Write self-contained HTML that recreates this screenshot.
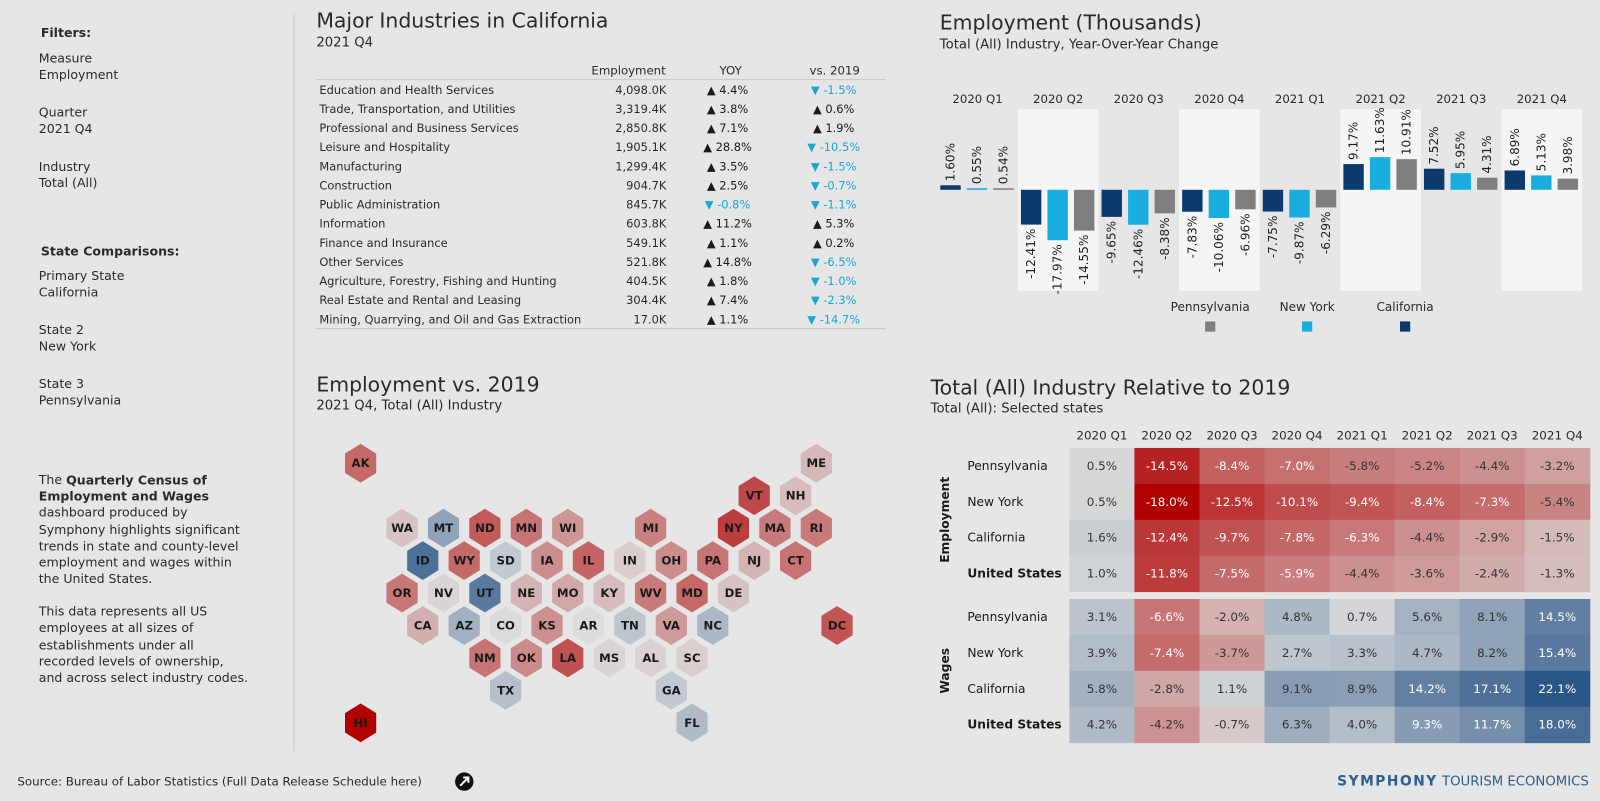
<!DOCTYPE html>
<html><head><meta charset="utf-8"><title>QCEW Dashboard</title>
<style>
html,body{margin:0;padding:0;background:#e6e6e6;width:1600px;height:801px;overflow:hidden}
svg{display:block}
text{font-family:"DejaVu Sans","Liberation Sans",sans-serif;dominant-baseline:central}
.t{font-size:20px}
.s{font-size:12.3px}
.b{font-weight:bold}
</style></head>
<body>
<svg id="dash" width="1600" height="801" viewBox="0 0 1568 785" preserveAspectRatio="none" xmlns="http://www.w3.org/2000/svg" fill="#2a2a2a">
<rect x="0" y="0" width="1568" height="785" fill="#e6e6e6"/>
<g>
<text x="40" y="32" class="s b">Filters:</text>
<text x="38" y="57" class="s">Measure</text>
<text x="38" y="73" class="s">Employment</text>
<text x="38" y="110" class="s">Quarter</text>
<text x="38" y="126" class="s">2021 Q4</text>
<text x="38" y="163" class="s">Industry</text>
<text x="38" y="179" class="s">Total (All)</text>
<text x="40" y="246" class="s b">State Comparisons:</text>
<text x="38" y="270" class="s">Primary State</text>
<text x="38" y="286" class="s">California</text>
<text x="38" y="323" class="s">State 2</text>
<text x="38" y="339" class="s">New York</text>
<text x="38" y="376" class="s">State 3</text>
<text x="38" y="392" class="s">Pennsylvania</text>
</g>
<g>
<text x="38" y="470" class="s">The <tspan font-weight="bold">Quarterly Census of</tspan></text>
<text x="38" y="486" class="s b">Employment and Wages</text>
<text x="38" y="502" class="s">dashboard produced by</text>
<text x="38" y="519" class="s">Symphony highlights significant</text>
<text x="38" y="535" class="s">trends in state and county-level</text>
<text x="38" y="551" class="s">employment and wages within</text>
<text x="38" y="567" class="s">the United States.</text>
<text x="38" y="599" class="s">This data represents all US</text>
<text x="38" y="615" class="s">employees at all sizes of</text>
<text x="38" y="632" class="s">establishments under all</text>
<text x="38" y="648" class="s">recorded levels of ownership,</text>
<text x="38" y="664" class="s">and across select industry codes.</text>
</g>
<line x1="288" y1="14" x2="288" y2="736" stroke="#c8c8c8" stroke-width="1"/>

<text x="310" y="20" class="t">Major Industries in California</text>
<text x="310" y="42" font-size="13">2021 Q4</text>
<g id="table"></g>

<text x="310" y="377" class="t">Employment vs. 2019</text>
<text x="310" y="398" font-size="13">2021 Q4, Total (All) Industry</text>
<g id="hexmap"></g>

<text x="921" y="22" class="t">Employment (Thousands)</text>
<text x="921" y="44" font-size="13">Total (All) Industry, Year-Over-Year Change</text>
<g id="bars"></g>

<text x="912" y="380" class="t">Total (All) Industry Relative to 2019</text>
<text x="912" y="401" font-size="13">Total (All): Selected states</text>
<g id="heat"></g>

<g>
<text x="17" y="766" font-size="11.6">Source: Bureau of Labor Statistics (Full Data Release Schedule here)</text>
<g>
<circle cx="455" cy="766" r="9" fill="#111"/>
<path d="M451 770 L459 762 M454 762 L459 762 L459 767" stroke="#fff" stroke-width="2" fill="none"/>
</g>
<text x="1557" y="766" text-anchor="end" font-size="13.5"><tspan font-weight="bold" fill="#2b5f8e" letter-spacing="1.5">SYMPHONY</tspan><tspan fill="#2b5f8e" font-size="13"> TOURISM ECONOMICS</tspan></text>
</g>
</svg>
<script>
var NS='http://www.w3.org/2000/svg';
function mk(tag,attrs,parent){var e=document.createElementNS(NS,tag);for(var k in attrs)e.setAttribute(k,attrs[k]);parent.appendChild(e);return e;}

/* ---------- Industries table data ---------- */
var industries=['Education and Health Services','Trade, Transportation, and Utilities','Professional and Business Services','Leisure and Hospitality','Manufacturing','Construction','Public Administration','Information','Finance and Insurance','Other Services','Agriculture, Forestry, Fishing and Hunting','Real Estate and Rental and Leasing','Mining, Quarrying, and Oil and Gas Extraction'];
var employment=['4,098.0K','3,319.4K','2,850.8K','1,905.1K','1,299.4K','904.7K','845.7K','603.8K','549.1K','521.8K','404.5K','304.4K','17.0K'];
var yoy=[4.4,3.8,7.1,28.8,3.5,2.5,-0.8,11.2,1.1,14.8,1.8,7.4,1.1];
var vs2019=[-1.5,0.6,1.9,-10.5,-1.5,-0.7,-1.1,5.3,0.2,-6.5,-1.0,-2.3,-14.7];

/* ---------- Bar chart data ---------- */
var quarters=['2020 Q1','2020 Q2','2020 Q3','2020 Q4','2021 Q1','2021 Q2','2021 Q3','2021 Q4'];
var caVals=[1.60,-12.41,-9.65,-7.83,-7.75,9.17,7.52,6.89];
var nyVals=[0.55,-17.97,-12.46,-10.06,-9.87,11.63,5.95,5.13];
var paVals=[0.54,-14.55,-8.38,-6.96,-6.29,10.91,4.31,3.98];
var seriesNames=['California','New York','Pennsylvania'];

/* ---------- Heatmap data ---------- */
var heatRowLabels=['Pennsylvania','New York','California','United States'];
var empPA=[0.5,-14.5,-8.4,-7.0,-5.8,-5.2,-4.4,-3.2];
var empNY=[0.5,-18.0,-12.5,-10.1,-9.4,-8.4,-7.3,-5.4];
var empCA=[1.6,-12.4,-9.7,-7.8,-6.3,-4.4,-2.9,-1.5];
var empUS=[1.0,-11.8,-7.5,-5.9,-4.4,-3.6,-2.4,-1.3];
var wagPA=[3.1,-6.6,-2.0,4.8,0.7,5.6,8.1,14.5];
var wagNY=[3.9,-7.4,-3.7,2.7,3.3,4.7,8.2,15.4];
var wagCA=[5.8,-2.8,1.1,9.1,8.9,14.2,17.1,22.1];
var wagUS=[4.2,-4.2,-0.7,6.3,4.0,9.3,11.7,18.0];

/* ---------- Hex map data ---------- */
var hexStates=['AK','ME','VT','NH','WA','MT','ND','MN','WI','MI','NY','MA','RI','ID','WY','SD','IA','IL','IN','OH','PA','NJ','CT','OR','NV','UT','NE','MO','KY','WV','MD','DE','CA','AZ','CO','KS','AR','TN','VA','NC','NM','OK','LA','MS','AL','SC','TX','GA','FL','HI','DC'];
var hexValues=[-7.7,-1.6,-10.6,-1.4,-1.0,8.2,-8.9,-6.6,-4.0,-5.6,-11.7,-6.2,-6.2,17.2,-7.7,2.2,-4.6,-8.0,-0.5,-4.6,-6.6,-1.9,-6.7,-6.5,-0.2,15.4,-1.9,-2.7,-1.3,-6.0,-7.7,-1.0,-2.2,5.9,0.1,-4.4,0,2.8,-3.6,4.9,-6.6,-4.8,-9.8,-0.2,-0.3,-0.4,3.6,2.2,4.3,-18,-9.4];
var hexRow=[0,0,1,1,2,2,2,2,2,2,2,2,2,3,3,3,3,3,3,3,3,3,3,4,4,4,4,4,4,4,4,4,5,5,5,5,5,5,5,5,6,6,6,6,6,6,7,7,8,8,5];
var hexCol=[-1,10,8,9,0,1,2,3,4,6,8,9,10,0,1,2,3,4,5,6,7,8,9,0,1,2,3,4,5,6,7,8,0,1,2,3,4,5,6,7,2,3,4,5,6,7,2,6,7,-1,10];

function colorFor(v){
  var r,gg,b;
  if(v<0){var t=Math.min(1,Math.pow(-v/18,0.75));r=220-t*44;gg=220-t*220;b=220-t*220;}
  else{var t2=Math.min(1,Math.pow(v/22,0.85));r=220-t2*177;gg=220-t2*133;b=220-t2*84;}
  return 'rgb('+Math.round(r)+','+Math.round(gg)+','+Math.round(b)+')';
}

/* ---------- Table ---------- */
(function(){
  var g=document.getElementById('table');
  var h1=mk('text',{x:616,y:69,'text-anchor':'middle','font-size':11.5},g);h1.textContent='Employment';
  
  
  var h2=mk('text',{x:716,y:69,'text-anchor':'middle','font-size':11.5},g);h2.textContent='YOY';
  
  
  var h3=mk('text',{x:818,y:69,'text-anchor':'middle','font-size':11.5},g);h3.textContent='vs. 2019';
  
  
  var l1=mk('line',{x1:310,y1:78,x2:868,y2:78,stroke:'#c9c9c9'},g);
  
  
  var l2=mk('line',{x1:310,y1:322,x2:868,y2:322,stroke:'#c9c9c9'},g);
  
  
  function fmt(v){return (v<0?'-':'')+Math.abs(v).toFixed(1)+'%';}
  for(var i=0;i<industries.length;i++){
    var y=88+i*18.75;
    var row=mk('g',{},g);
    
    
    var n=mk('text',{x:313,y:y,'font-size':11.2},row);n.textContent=industries[i];
    
    
    var e=mk('text',{x:653,y:y,'text-anchor':'end','font-size':11.2},row);e.textContent=employment[i];
    
    
    var yv=yoy[i],neg=yv<0;
    var t1=mk('text',{x:713,y:y,'text-anchor':'middle','font-size':11.2,fill:neg?'#1aa7d6':'#1a1a1a'},row);
    t1.textContent=(neg?'▼ ':'▲ ')+fmt(yv);
    
    
    var vv=vs2019[i],n2=vv<0;
    var t2=mk('text',{x:817,y:y,'text-anchor':'middle','font-size':11.2,fill:n2?'#1aa7d6':'#1a1a1a'},row);
    t2.textContent=(n2?'▼ ':'▲ ')+fmt(vv);
    
    
  }
})();

/* ---------- Hex map ---------- */
(function(){
  var g=document.getElementById('hexmap');
  var x0=394,dx=40.6,y0=454,dy=31.8,R=19;
  function cx(r,c){return x0+c*dx+(r%2===1?dx/2:0);}
  for(var i=0;i<hexStates.length;i++){
    var x=cx(hexRow[i],hexCol[i]),y=y0+hexRow[i]*dy;
    var pts=[];
    for(var k=0;k<6;k++){var a=Math.PI/180*(60*k-90);pts.push((x+R*Math.cos(a)*0.93).toFixed(1)+','+(y+R*Math.sin(a)).toFixed(1));}
    var p=mk('polygon',{points:pts.join(' '),fill:colorFor(hexValues[i])},g);
    
    
    var t=mk('text',{x:x,y:y,'text-anchor':'middle','font-size':11.5,'font-weight':'bold',fill:'#1a1a1a'},g);
    t.textContent=hexStates[i];
    
    
  }
})();

/* ---------- Bar chart ---------- */
(function(){
  var g=document.getElementById('bars');
  var gx0=918.5,gw=79,zeroY=186,k=2.75;
  function yOf(v){return zeroY-v*k;}
  var cols=['#0b3a6e','#1aaee0','#7f7f7f'];
  var sets=[caVals,nyVals,paVals];
  var offs=[3,29,55],bw=20;
  for(var q=0;q<quarters.length;q++){
    var gs=gx0+q*gw;
    if(q%2===1){
      var band=mk('rect',{x:gs,y:107,width:gw,height:178,fill:'#f5f5f5'},g);
      
      
    }
    var ql=mk('text',{x:gs+gw/2,y:97,'text-anchor':'middle','font-size':11.5},g);
    ql.textContent=quarters[q];
    
    
  }
  for(var q2=0;q2<quarters.length;q2++){
    var gs2=gx0+q2*gw;
    for(var s=0;s<3;s++){
      var v=sets[s][q2];
      var y1=Math.min(yOf(v),zeroY),h=Math.abs(yOf(v)-zeroY);
      var r=mk('rect',{x:gs2+offs[s],y:y1,width:bw,height:Math.max(h,1),fill:cols[s]},g);
      
      
      var lx=gs2+offs[s]+bw/2;
      var ly=v>=0?yOf(v)-4:yOf(v)+4;
      var t=mk('text',{x:0,y:0,'font-size':11.8,fill:'#222','text-anchor':v>=0?'start':'end',transform:'translate('+lx+','+ly+') rotate(-90)'},g);
      t.textContent=v.toFixed(2)+'%';
      
      
    }
  }
  var legendNames=['Pennsylvania','New York','California'];
  var legendCols=['#7f7f7f','#1aaee0','#0b3a6e'];
  var legendX=[1186,1281,1377];
  for(var j=0;j<3;j++){
    var lt=mk('text',{x:legendX[j],y:301,'text-anchor':'middle','font-size':11.8},g);
    lt.textContent=legendNames[j];
    
    
    var ls=mk('rect',{x:legendX[j]-5,y:315,width:10,height:10,fill:legendCols[j]},g);
    
    
  }
})();

/* ---------- Heatmap ---------- */
(function(){
  var g=document.getElementById('heat');
  var x0=1048,cw=63.75,rh=35.2;
  var blocks=[{name:'Employment',top:439,rows:[empPA,empNY,empCA,empUS]},{name:'Wages',top:587,rows:[wagPA,wagNY,wagCA,wagUS]}];
  for(var c=0;c<quarters.length;c++){
    var h=mk('text',{x:x0+c*cw+cw/2,y:427,'text-anchor':'middle','font-size':11.7},g);
    h.textContent=quarters[c];
    
    
  }
  blocks.forEach(function(b){
    var bt=mk('text',{x:0,y:0,'text-anchor':'middle','font-size':12,'font-weight':'bold',fill:'#1a1a1a',transform:'translate(926,'+(b.top+2*rh)+') rotate(-90)'},g);
    bt.textContent=b.name;
    
    
    for(var r=0;r<4;r++){
      var y=b.top+r*rh;
      var rl=mk('text',{x:948,y:y+rh/2,'font-size':12,'font-weight':r===3?'bold':'normal',fill:'#1a1a1a'},g);
      rl.textContent=heatRowLabels[r];
      
      
      for(var c2=0;c2<quarters.length;c2++){
        var v=b.rows[r][c2];
        var cell=mk('rect',{x:x0+c2*cw,y:y,width:cw+0.5,height:rh+0.5,fill:colorFor(v)},g);
        
        
        var white=(v<=-5.85)||(v>9.2);
        var ct=mk('text',{x:x0+c2*cw+cw/2,y:y+rh/2,'text-anchor':'middle','font-size':11.7,fill:white?'#ffffff':'#333333'},g);
        ct.textContent=v.toFixed(1)+'%';
        
        
      }
    }
  });
})();
</script>
</body></html>
